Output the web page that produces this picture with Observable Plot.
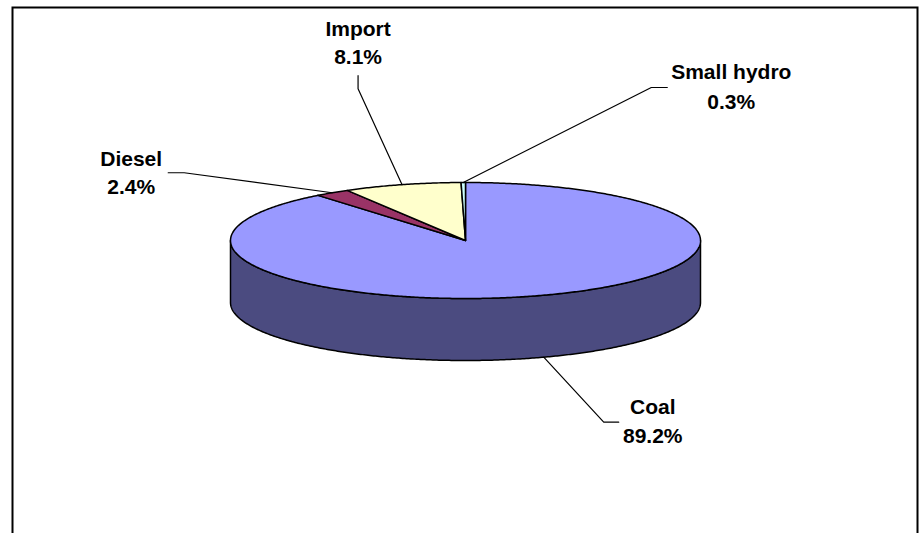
<!DOCTYPE html>
<html><head><meta charset="utf-8">
<script src="https://cdn.jsdelivr.net/npm/d3@7"></script>
<script src="https://cdn.jsdelivr.net/npm/@observablehq/plot@0.6"></script>
<style>html,body{margin:0;padding:0;background:#fff;overflow:hidden}</style>
</head><body><div id="chart"></div>
<script>
// ---- data ----
const categories = ["Coal", "Diesel", "Import", "Small hydro"];
const shares = [89.2, 2.4, 8.1, 0.3];
const percentLabels = ["89.2%", "2.4%", "8.1%", "0.3%"];

// ---- style / layout (kept apart from data) ----
const sliceColors = ["#9999ff", "#993366", "#ffffcc", "#ccffff"];
const sideColor = "#4b4b80";
const W = 920, H = 533;
const cx = 465, cy = 240, rx = 235, ry = 58, depth = 62;
// leader/label layout relative to the slice's rim anchor (pixels):
// anchorOnBottom, elbow [dx,dy], end [dx,dy], label dx, baseline dy of line 1 and line 2
const labelLayout = {
  "Coal":        {bottom: true,  elbow: [60, 65],    end: [75, 65],    tx: 109,   b1: 57,   b2: 86},
  "Diesel":      {bottom: false, elbow: [-148, -20], end: [-164, -20], tx: -201,  b1: -27,  b2: 1},
  "Import":      {bottom: false, elbow: [-44, -96],  end: [-44, -109], tx: -44,   b1: -149, b2: -121},
  "Small hydro": {bottom: false, elbow: [188, -95],  end: [204, -95],  tx: 268,   b1: -104, b2: -74}
};

const rad = d => d * Math.PI / 180;
const pt = (deg, dz = 0) => ({x: cx + rx * Math.sin(rad(deg)), y: cy - ry * Math.cos(rad(deg)) + dz});
const arc = (a0, a1, dz = 0) => {
  const n = Math.max(2, Math.ceil(Math.abs(a1 - a0) / 0.5));
  return d3.range(n + 1).map(i => pt(a0 + (a1 - a0) * i / n, dz));
};

const total = d3.sum(shares);
let acc = 0;
const slices = categories.map((c, i) => {
  const a0 = acc / total * 360;
  acc += shares[i];
  const a1 = acc / total * 360;
  return {name: c, a0, a1, mid: (a0 + a1) / 2, color: sliceColors[i], pct: percentLabels[i]};
});

// visible front side (90deg .. 270deg) — lies within the first slice
const sidePts = [...arc(90, 270, 0), ...arc(270, 90, depth)];

const marks = [];
marks.push(Plot.line(sidePts, {x: "x", y: "y", fill: sideColor, stroke: "black", strokeWidth: 1.5, curve: "linear-closed", strokeLinejoin: "round"}));
for (const s of slices) {
  const poly = [{x: cx, y: cy}, ...arc(s.a0, s.a1, 0)];
  marks.push(Plot.line(poly, {x: "x", y: "y", fill: s.color, stroke: "black", strokeWidth: 1.5, curve: "linear-closed", strokeLinejoin: "round"}));
}

const leaders = [];
const nameRows = [], pctRows = [];
for (const s of slices) {
  const L = labelLayout[s.name];
  const a = pt(s.mid, L.bottom ? depth : 0);
  leaders.push({name: s.name, x: a.x, y: a.y});
  leaders.push({name: s.name, x: a.x + L.elbow[0], y: a.y + L.elbow[1]});
  leaders.push({name: s.name, x: a.x + L.end[0], y: a.y + L.end[1]});
  nameRows.push({t: s.name, x: a.x + L.tx, y: a.y + L.b1});
  pctRows.push({t: s.pct, x: a.x + L.tx, y: a.y + L.b2});
}
marks.push(Plot.line(leaders, {x: "x", y: "y", z: "name", stroke: "black", strokeWidth: 1.2, curve: "linear"}));
const textOpts = {x: "x", y: "y", text: "t", fontSize: 21, fontWeight: "bold", fontFamily: "Liberation Sans, Arial, sans-serif", lineAnchor: "bottom", textAnchor: "middle", fill: "black"};
marks.push(Plot.text(nameRows, textOpts));
marks.push(Plot.text(pctRows, textOpts));
marks.push(Plot.frame({stroke: "black", strokeWidth: 2, insetLeft: 12, insetTop: 7, insetRight: 3, insetBottom: -20}));

const chart = Plot.plot({
  width: W, height: H, margin: 0,
  x: {domain: [0, W], range: [0, W], axis: null},
  y: {domain: [0, H], range: [0, H], axis: null},
  style: {background: "white", overflow: "hidden"},
  marks
});
document.getElementById("chart").appendChild(chart);
</script>
</body></html>
